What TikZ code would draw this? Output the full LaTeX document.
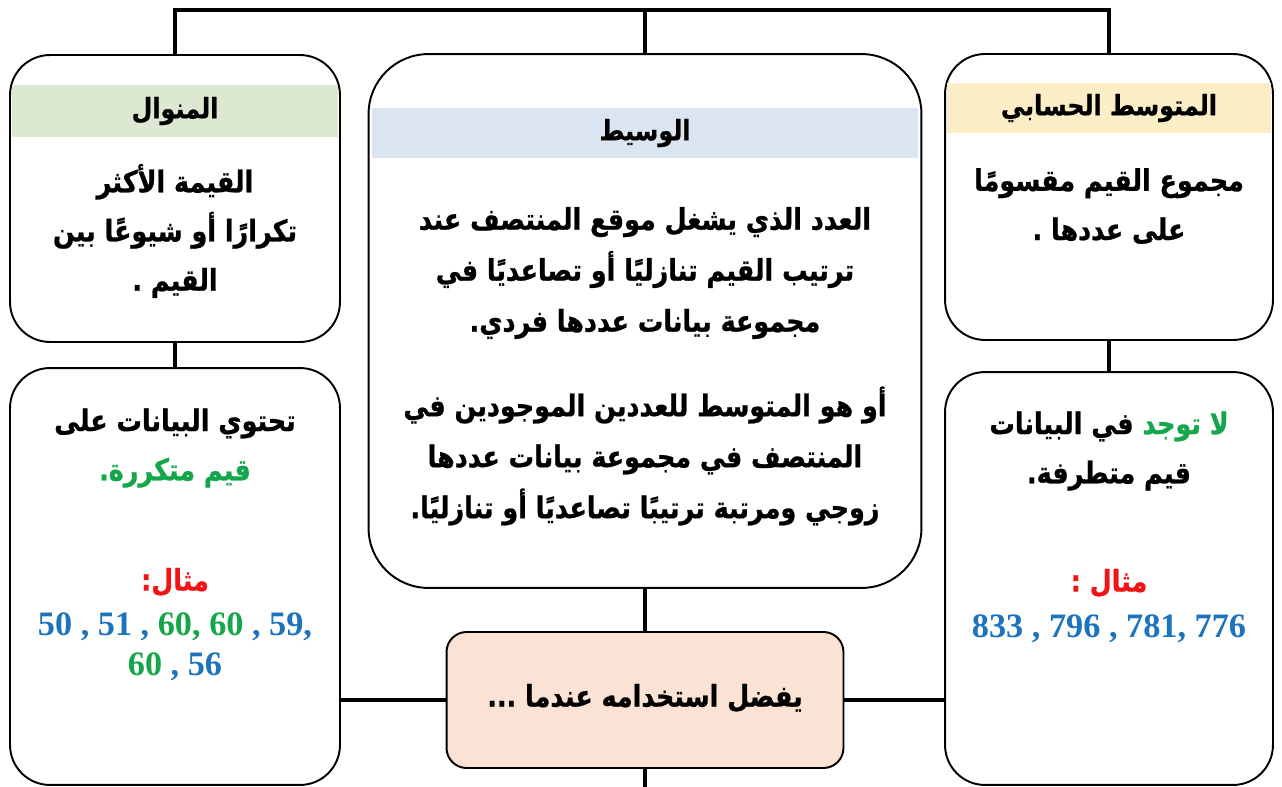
\documentclass[tikz,border=0pt]{standalone}
\usepackage{fontspec}
\usepackage{xcolor}
\TeXXeTstate=1
\newfontfamily\arabicfont[Script=Arabic, FakeStretch=0.85, BoldFeatures={FakeBold=0.8}]{DejaVu Sans}
\newfontfamily\numfont{Liberation Serif}
\definecolor{bandgreen}{HTML}{DCE8D2}
\definecolor{bandblue}{HTML}{DAE5F1}
\definecolor{bandyellow}{HTML}{FBEEC6}
\definecolor{peach}{HTML}{FAE2D5}
\definecolor{numblue}{HTML}{1E73BE}
\definecolor{numgreen}{HTML}{15A64B}
\definecolor{exred}{HTML}{F01414}
\newcommand{\arline}[1]{\leavevmode\beginR #1\endR}

\begin{document}
\begin{tikzpicture}[x=0.02cm, y=-0.02cm,
    box/.style={draw, line width=1.1pt, fill=white, rounded corners=0.8cm, inner sep=0pt, outer sep=0pt},
    band/.style={inner sep=0pt, outer sep=0pt, font=\arabicfont\bfseries\fontsize{16}{20}\selectfont},
    body/.style={align=center, inner sep=0pt, font=\arabicfont\bfseries\fontsize{17}{28}\selectfont},
    nums/.style={align=center, inner sep=0pt, font=\numfont\bfseries\fontsize{19.5}{23}\selectfont},
    link/.style={line width=2.3pt}]
    \useasboundingbox (0,0) rectangle (1282,787);
    \coordinate (topbar) at (645,10);
    \coordinate (bottomend) at (645,787);

    \node[box, minimum width=6.6cm, minimum height=5.74cm] (modebox) at (175,198.5) {};
    \node[box, minimum width=6.6cm, minimum height=8.34cm] (modeuse) at (175,576.5) {};
    \node[box, rounded corners=1.2cm, minimum width=11.06cm, minimum height=10.68cm] (medbox) at (645,321) {};
    \node[box, fill=peach, rounded corners=0.4cm, minimum width=7.94cm, minimum height=2.72cm] (prefer) at (645,700) {};
    \node[box, minimum width=6.56cm, minimum height=5.72cm] (meanbox) at (1109,197) {};
    \node[box, minimum width=6.56cm, minimum height=8.26cm] (meanuse) at (1109,578.5) {};

    \draw[link] (modebox.north) |- (meanbox.north |- topbar) -- (meanbox.north);
    \draw[link] (medbox.north) -- (topbar);
    \draw[link] (modebox.south) -- (modeuse.north);
    \draw[link] (meanbox.south) -- (meanuse.north);
    \draw[link] (medbox.south) -- (prefer.north);
    \draw[link] (prefer.south) -- (bottomend);
    \draw[link] (modeuse.east |- prefer) -- (prefer.west);
    \draw[link] (prefer.east) -- (meanuse.west |- prefer);

    \node[band, fill=bandgreen, minimum width=6.52cm, minimum height=1.04cm] (modehead) at (175,111) {\arline{المنوال}};
    \node[band, fill=bandblue, minimum width=10.92cm, minimum height=1.02cm] (medhead) at (645,133) {\arline{الوسيط}};
    \node[band, fill=bandyellow, minimum width=6.48cm, minimum height=1.0cm] (meanhead) at (1109,108) {\arline{المتوسط الحسابي}};

    \node[body] (modedef) at (175,231) {\arline{القيمة الأكثر}\\ \arline{تكرارًا أو شيوعًا بين}\\ \arline{القيم .}};
    \node[body] (modecase) at (175,448) {\arline{تحتوي البيانات على}\\ \leavevmode{\color{numgreen}\beginR قيم متكررة.\endR}};
    \node[body] (modeex) at (175,582) {\leavevmode{\color{exred}\beginR مثال:\endR}};
    \node[nums] (modenums) at (175,647) {{\color{numblue}50 , 51 ,} {\color{numgreen}60, 60} {\color{numblue}, 59,}\\ {\color{numgreen}60} {\color{numblue}, 56}};

    \node[body, font=\arabicfont\bfseries\fontsize{17}{29}\selectfont] (medodd) at (645,273) {\arline{العدد الذي يشغل موقع المنتصف عند}\\ \arline{ترتيب القيم تنازليًا أو تصاعديًا في}\\ \arline{مجموعة بيانات عددها فردي.}};
    \node[body, font=\arabicfont\bfseries\fontsize{17}{29}\selectfont] (medeven) at (645,456) {\arline{أو هو المتوسط للعددين الموجودين في}\\ \arline{المنتصف في مجموعة بيانات عددها}\\ \arline{زوجي ومرتبة ترتيبًا تصاعديًا أو تنازليًا.}};
    \node[body] (prefertext) at (645,698) {\arline{يفضل استخدامه عندما ...}};

    \node[body] (meandef) at (1109,206) {\arline{مجموع القيم مقسومًا}\\ \arline{على عددها .}};
    \node[body] (meancase) at (1109,451) {\leavevmode\beginR في البيانات\endR\ {\color{numgreen}\beginR لا توجد\endR}\\ \arline{قيم متطرفة.}};
    \node[body] (meanex) at (1109,583) {\leavevmode{\color{exred}\beginR مثال :\endR}};
    \node[nums] (meannums) at (1109,629) {\color{numblue}833 , 796 , 781, 776};
\end{tikzpicture}
\end{document}
